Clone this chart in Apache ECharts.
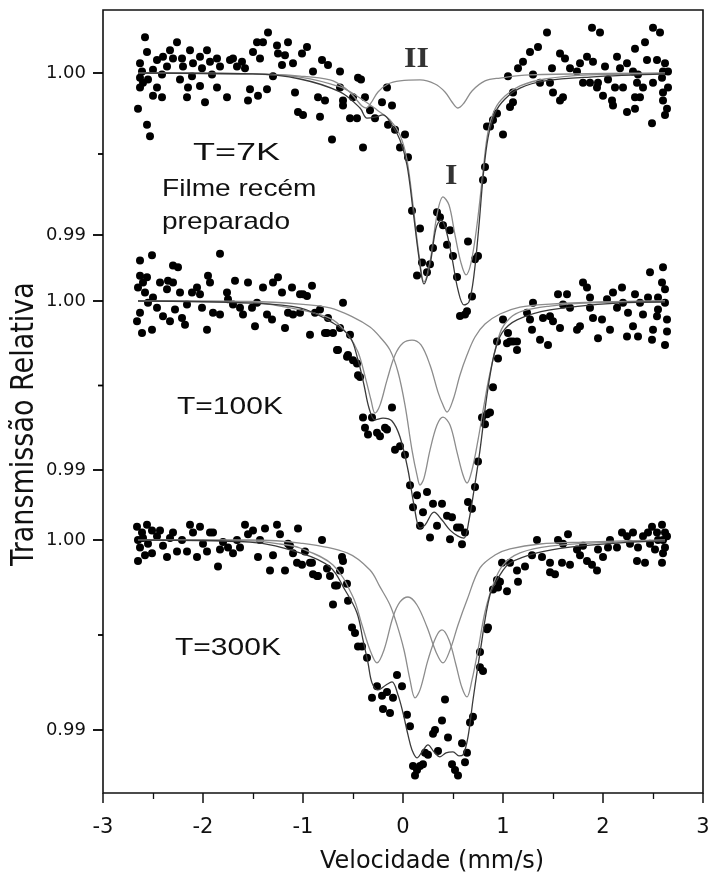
<!DOCTYPE html>
<html>
<head>
<meta charset="utf-8">
<script src="https://cdn.jsdelivr.net/npm/echarts@6/dist/echarts.min.js"></script>
<style>html,body{margin:0;padding:0;background:#fff}#c{width:714px;height:880px}</style>
</head>
<body>
<div id="c"></div>
<script>
// ---------- tick labels ----------
const xTickValues = [-3, -2, -1, 0, 1, 2, 3];
const yTickLabels = [0.99, 1.00];
const yMinorTicks = [0.995];
const panelLabels = ['T=7K', 'T=100K', 'T=300K'];

// ---------- Panel 1 : T = 7 K ----------
const p1Data = [
[-2.58,1.0022],[-2.56,1.0013],[-2.63,1.0006],[-2.61,1.0001],[-2.63,0.9997],[-2.60,0.9994],[-2.63,0.9991],[-2.55,0.9996],
[-2.50,1.0002],[-2.46,1.0008],[-2.40,1.0010],[-2.36,1.0004],[-2.41,0.9999],[-2.46,0.9991],[-2.50,0.9986],[-2.41,0.9985],
[-2.65,0.9978],[-2.56,0.9968],[-2.53,0.9961],[-2.33,1.0014],[-2.26,1.0019],[-2.30,1.0009],[-2.21,1.0009],[-2.20,1.0004],
[-2.23,0.9996],[-2.15,0.9991],[-2.16,0.9985],[-2.11,0.9998],[-2.10,1.0006],[-2.13,1.0014],[-2.03,1.0010],[-1.96,1.0014],
[-2.01,1.0003],[-2.03,0.9992],[-1.98,0.9982],[-1.93,1.0007],[-1.86,1.0009],[-1.83,1.0004],[-1.91,0.9999],[-1.86,0.9991],
[-1.76,0.9985],[-1.73,1.0008],[-1.70,1.0009],[-1.66,1.0004],[-1.61,1.0007],[-1.58,1.0003],[-1.50,1.0013],[-1.46,1.0019],
[-1.40,1.0019],[-1.43,1.0009],[-1.53,0.9990],[-1.55,0.9983],[-1.45,0.9986],[-1.35,1.0025],[-1.26,1.0017],[-1.18,1.0011],
[-1.15,1.0019],[-1.25,1.0012],[-1.21,1.0005],[-1.30,0.9998],[-1.36,0.9990],[-1.08,0.9988],[-1.05,0.9976],[-1.00,0.9974],
[-1.01,1.0012],[-0.96,1.0016],[-1.10,1.0006],[-0.90,1.0001],[-0.81,1.0008],[-0.75,1.0005],[-0.85,0.9985],[-0.78,0.9983],
[-0.83,0.9973],[-0.71,0.9959],[-0.63,1.0001],[-0.63,0.9991],[-0.60,0.9983],[-0.60,0.9980],[-0.53,0.9972],[-0.46,0.9972],
[-0.45,0.9997],[-0.50,0.9985],[-0.42,0.9996],[-0.38,0.9985],[-0.33,0.9977],[-0.28,0.9972],[-0.21,0.9982],[-0.16,0.9991],
[-0.11,0.9980],[-0.15,0.9968],[-0.08,0.9965],[0.02,0.9962],[-0.03,0.9954],[-0.40,0.9954],[0.05,0.9948],[0.09,0.9915],
[0.17,0.9904],[0.19,0.9883],[0.27,0.9882],[0.14,0.9875],[0.24,0.9877],[0.30,0.9892],[0.34,0.9914],[0.37,0.9911],
[0.40,0.9906],[0.47,0.9903],[0.44,0.9894],[0.50,0.9887],[0.54,0.9874],[0.65,0.9896],[0.72,0.9885],[0.75,0.9887],
[0.69,0.9862],[0.57,0.9850],[0.62,0.9851],[0.64,0.9853],[0.80,0.9934],[0.82,0.9942],[0.84,0.9967],[0.90,0.9971],
[0.94,0.9975],[1.00,0.9962],[0.87,0.9967],[1.10,0.9982],[1.07,0.9979],[1.10,0.9988],
[1.44,1.0025],[1.89,1.0028],[1.97,1.0025],[2.50,1.0028],[2.57,1.0025],[2.42,1.0019],[2.32,1.0015],[1.35,1.0016],
[1.27,1.0013],[1.20,1.0007],[1.15,1.0003],[1.05,0.9998],[1.30,0.9999],[1.37,0.9994],[1.47,0.9994],[1.57,1.0012],
[1.62,1.0009],[1.49,1.0003],[1.67,1.0003],[1.74,1.0001],[1.77,1.0006],[1.84,1.0010],[1.90,1.0007],[2.02,1.0004],
[2.14,1.0010],[2.24,1.0006],[2.17,1.0003],[2.30,1.0001],[2.35,0.9999],[2.44,1.0008],[2.54,1.0008],[2.62,1.0006],
[2.60,1.0001],[2.65,1.0001],[2.59,0.9997],[2.50,0.9994],[2.40,0.9991],[2.34,0.9994],[2.20,0.9991],[2.12,0.9991],
[2.05,0.9996],[1.95,0.9994],[1.94,0.9991],[2.00,0.9986],[2.09,0.9983],[2.10,0.9980],[2.24,0.9976],[2.32,0.9978],
[2.32,0.9985],[2.37,0.9985],[1.60,0.9985],[1.57,0.9983],[1.50,0.9988],[1.80,0.9994],[1.87,0.9994],[2.49,0.9969],
[2.60,0.9983],[2.64,0.9978],[2.62,0.9974],[2.60,0.9988],[2.65,0.9991]
];
const p1Total = [
[-2.65,1.0],[-1.5,0.99994],[-1.03,0.99963],[-0.63,0.99883],[-0.43,0.99784],[-0.36,0.99722],[-0.28,0.99728],[-0.20,0.99741],
[-0.11,0.99679],[-0.03,0.99587],[0.04,0.99432],[0.10,0.99154],[0.16,0.98859],[0.21,0.98698],[0.27,0.98816],[0.33,0.99043],
[0.38,0.99093],[0.43,0.99031],[0.49,0.98859],[0.55,0.98661],[0.61,0.98569],[0.66,0.98587],[0.71,0.98754],[0.76,0.99062],
[0.80,0.99352],[0.85,0.99599],[0.92,0.99753],[1.02,0.99840],[1.17,0.99907],[1.42,0.99951],[1.87,0.99975],[2.62,0.99994]
];
const p1CompI = [
[-2.65,1.0],[-1.5,0.99994],[-1.03,0.99975],[-0.63,0.99914],[-0.43,0.99846],[-0.26,0.99772],[-0.13,0.99710],[-0.03,0.99617],
[0.04,0.99463],[0.10,0.99185],[0.16,0.98877],[0.21,0.98711],[0.27,0.98834],[0.34,0.99124],[0.40,0.99235],[0.46,0.99185],
[0.52,0.99000],[0.58,0.98828],[0.63,0.98754],[0.68,0.98828],[0.74,0.99062],[0.80,0.99389],[0.85,0.99636],[0.92,0.99778],
[1.02,0.99858],[1.17,0.99920],[1.42,0.99963],[1.87,0.99988],[2.62,0.99994]
];
const p1CompII = [
[-2.65,1.0],[-1.5,0.99994],[-1.03,0.99981],[-0.73,0.99957],[-0.58,0.99907],[-0.48,0.99846],[-0.41,0.99796],[-0.37,0.99784],
[-0.32,0.99815],[-0.25,0.99883],[-0.15,0.99932],[-0.03,0.99951],[0.17,0.99957],[0.32,0.99932],[0.42,0.99883],[0.49,0.99821],
[0.55,0.99784],[0.61,0.99815],[0.69,0.99889],[0.82,0.99951],[0.97,0.99969],[1.27,0.99988],[2.62,1.0]
];

// ---------- Panel 2 : T = 100 K ----------
const p2Data = [
[-2.63,1.0024],[-2.51,1.0027],[-2.30,1.0021],[-2.25,1.0020],[-1.83,1.0028],[-2.63,1.0015],[-2.60,1.0011],[-2.56,1.0014],
[-2.65,1.0008],[-2.58,1.0005],[-2.55,0.9999],[-2.50,1.0002],[-2.46,0.9996],[-2.63,0.9993],[-2.66,0.9988],[-2.61,0.9981],
[-2.51,0.9983],[-2.43,1.0011],[-2.36,1.0007],[-2.35,1.0012],[-2.30,1.0011],[-2.40,0.9991],[-2.33,0.9988],[-2.28,0.9995],
[-2.21,0.9990],[-2.18,0.9986],[-2.23,1.0005],[-2.16,0.9998],[-2.11,1.0005],[-2.06,1.0008],[-2.03,1.0004],[-2.01,0.9996],
[-1.96,0.9983],[-1.95,1.0015],[-1.93,1.0011],[-1.90,0.9993],[-1.83,0.9992],[-1.76,1.0005],[-1.75,1.0001],[-1.70,0.9998],
[-1.68,1.0012],[-1.63,0.9996],[-1.60,0.9992],[-1.55,1.0011],[-1.51,0.9996],[-1.48,0.9985],[-1.46,0.9999],[-1.40,1.0008],
[-1.36,0.9992],[-1.31,0.9989],[-1.30,1.0011],[-1.25,1.0014],[-1.21,1.0005],[-1.18,0.9984],[-1.11,1.0008],[-1.10,0.9992],
[-1.03,0.9993],[-1.00,1.0004],[-0.91,1.0009],[-0.93,0.9980],[-0.83,0.9995],[-0.75,0.9990],[-0.76,0.9981],[-0.70,0.9981],
[-0.65,0.9971],[-0.63,0.9984],[-0.60,0.9999],[-0.55,0.9968],[-0.50,0.9965],[-0.45,0.9956],[-1.03,1.0004],[-0.96,1.0003],
[-0.88,0.9993],[-1.15,0.9993],[-0.78,0.9981],[-0.53,0.9980],[-0.66,0.9971],[-0.56,0.9967],[-0.46,0.9963],[-0.43,0.9955],
[-0.40,0.9931],[-0.31,0.9931],[-0.38,0.9925],[-0.35,0.9921],[-0.26,0.9922],[-0.23,0.9920],[-0.18,0.9925],[-0.16,0.9924],
[-0.11,0.9937],[-0.08,0.9912],[-0.03,0.9914],[0.02,0.9909],[0.07,0.9891],[0.14,0.9885],[0.24,0.9887],[0.10,0.9878],
[0.20,0.9875],[0.30,0.9880],[0.39,0.9880],[0.17,0.9867],[0.34,0.9867],[0.27,0.9860],[0.44,0.9873],[0.49,0.9872],
[0.54,0.9866],[0.57,0.9866],[0.47,0.9859],[0.59,0.9856],[0.62,0.9863],[0.65,0.9881],[0.69,0.9877],[0.72,0.9890],
[0.75,0.9905],[0.79,0.9931],[0.84,0.9933],[0.82,0.9927],[0.87,0.9934],[0.90,0.9949],[0.95,0.9966],[0.94,0.9976],
[1.00,0.9989],[1.05,0.9981],[1.07,0.9976],[1.14,0.9976],[1.14,0.9971],
[1.24,0.9993],[1.30,0.9999],[1.27,0.9989],[1.29,0.9983],[1.04,0.9975],[1.10,0.9976],[1.37,0.9977],[1.45,0.9974],
[1.40,0.9990],[1.47,0.9991],[1.50,0.9988],[1.57,0.9984],[1.55,1.0004],[1.64,1.0004],[1.60,0.9998],[1.67,0.9996],
[1.74,0.9983],[1.77,0.9985],[1.80,1.0011],[1.84,1.0008],[1.87,1.0002],[1.87,0.9996],[1.90,0.9990],[1.95,0.9978],
[1.99,0.9989],[2.04,1.0001],[2.07,0.9983],[2.10,1.0005],[2.14,0.9996],[2.19,1.0008],[2.20,0.9999],[2.24,0.9979],
[2.25,0.9993],[2.30,0.9985],[2.32,1.0004],[2.35,0.9979],[2.37,0.9999],[2.40,0.9992],[2.45,1.0002],[2.47,1.0017],
[2.50,0.9983],[2.49,0.9977],[2.55,1.0002],[2.55,0.9995],[2.59,1.0011],[2.60,1.0020],[2.62,1.0007],[2.62,0.9999],
[2.64,0.9989],[2.64,0.9982],[2.62,0.9974],[2.54,0.9991]
];
const p2Total = [
[-2.65,1.0],[-1.53,0.99988],[-1.03,0.99959],[-0.70,0.99870],[-0.53,0.99787],[-0.45,0.99651],[-0.39,0.99503],[-0.34,0.99367],
[-0.28,0.99296],[-0.20,0.99307],[-0.11,0.99290],[-0.03,0.99195],[0.05,0.99000],[0.11,0.98792],[0.17,0.98656],[0.22,0.98674],
[0.31,0.98751],[0.39,0.98704],[0.47,0.98644],[0.55,0.98609],[0.61,0.98597],[0.66,0.98704],[0.71,0.98881],[0.77,0.99118],
[0.84,0.99444],[0.91,0.99680],[0.99,0.99811],[1.14,0.99888],[1.47,0.99947],[2.14,0.99988],[2.62,0.99994]
];
const p2CompA = [
[-2.65,1.0],[-1.53,0.99994],[-1.23,0.99970],[-0.93,0.99935],[-0.70,0.99888],[-0.55,0.99799],[-0.45,0.99698],[-0.37,0.99532],
[-0.32,0.99414],[-0.28,0.99337],[-0.23,0.99384],[-0.16,0.99532],[-0.08,0.99680],[0.00,0.99751],[0.09,0.99769],[0.18,0.99740],
[0.27,0.99621],[0.35,0.99461],[0.40,0.99384],[0.44,0.99343],[0.50,0.99414],[0.57,0.99562],[0.64,0.99680],[0.72,0.99787],
[0.82,0.99864],[0.97,0.99923],[1.17,0.99964],[1.47,0.99982],[1.97,0.99994],[2.62,1.0]
];
const p2CompB = [
[-2.65,1.0],[-1.53,0.99997],[-1.03,0.99982],[-0.73,0.99959],[-0.50,0.99905],[-0.33,0.99846],[-0.23,0.99787],[-0.13,0.99710],
[-0.05,0.99580],[0.02,0.99384],[0.09,0.99118],[0.14,0.98970],[0.17,0.98911],[0.21,0.98952],[0.27,0.99118],[0.34,0.99266],
[0.40,0.99313],[0.47,0.99266],[0.54,0.99106],[0.60,0.98970],[0.64,0.98923],[0.69,0.99000],[0.75,0.99177],[0.81,0.99384],
[0.87,0.99574],[0.97,0.99811],[1.07,0.99899],[1.20,0.99941],[1.47,0.99970],[1.80,0.99988],[2.62,1.0]
];

// ---------- Panel 3 : T = 300 K ----------
const p3Data = [
[-2.66,1.0007],[-2.61,1.0004],[-2.56,1.0008],[-2.51,1.0005],[-2.65,1.0000],[-2.60,1.0001],[-2.55,0.9998],[-2.63,0.9996],
[-2.58,0.9992],[-2.65,0.9989],[-2.51,0.9993],[-2.46,1.0002],[-2.43,1.0005],[-2.40,0.9997],[-2.36,0.9991],[-2.33,1.0001],
[-2.30,1.0004],[-2.26,0.9994],[-2.21,1.0000],[-2.16,0.9994],[-2.13,1.0008],[-2.10,1.0004],[-2.06,0.9991],[-2.03,1.0007],
[-2.00,0.9998],[-1.96,0.9994],[-1.93,1.0004],[-1.90,1.0004],[-1.85,0.9986],[-1.83,0.9995],[-1.80,0.9999],[-1.75,0.9996],
[-1.70,0.9993],[-1.66,1.0000],[-1.63,0.9996],[-1.58,1.0008],[-1.55,1.0003],[-1.50,1.0005],[-1.45,0.9991],[-1.43,1.0000],
[-1.38,1.0006],[-1.33,0.9984],[-1.30,0.9992],[-1.26,1.0008],[-1.23,1.0003],[-1.18,0.9984],[-1.13,0.9997],[-1.10,0.9993],
[-1.05,1.0006],[-1.01,0.9987],[-0.98,0.9994],[-0.93,0.9988],[-0.90,0.9982],[-0.85,0.9981],[-0.81,1.0000],[-0.76,0.9985],
[-0.73,0.9981],[-0.70,0.9966],[-0.66,0.9976],[-0.63,0.9984],[-0.60,0.9989],[-0.55,0.9968],[-0.56,0.9977],[-0.51,0.9954],
[-0.48,0.9951],[-0.45,0.9944],[-1.15,0.9998],[-1.06,0.9988],[-0.91,0.9988],[-0.86,0.9981],[-0.61,0.9991],[-0.68,0.9976],
[-0.41,0.9944],[-0.36,0.9938],[-0.26,0.9923],[-0.31,0.9917],[-0.21,0.9918],[-0.16,0.9920],[-0.10,0.9917],[-0.06,0.9929],
[-0.01,0.9923],[-0.20,0.9911],[-0.13,0.9909],[0.04,0.9908],[0.07,0.9902],[0.10,0.9881],[0.14,0.9879],[0.12,0.9876],
[0.17,0.9881],[0.20,0.9882],[0.22,0.9888],[0.25,0.9887],[0.30,0.9898],[0.32,0.9900],[0.39,0.9905],[0.42,0.9916],
[0.45,0.9896],[0.35,0.9889],[0.49,0.9882],[0.52,0.9879],[0.55,0.9876],[0.59,0.9893],[0.62,0.9883],[0.64,0.9888],
[0.67,0.9904],[0.70,0.9907],[0.77,0.9933],[0.80,0.9931],[0.77,0.9941],[0.84,0.9953],[0.85,0.9954],[0.90,0.9974],
[0.95,0.9975],[1.04,0.9973],[0.94,0.9979],[0.97,0.9978],[0.99,0.9988],[1.07,0.9988],[1.14,0.9984],[1.15,0.9978],
[1.22,0.9986],[1.29,0.9992],[1.34,1.0000],[1.39,0.9991],[1.47,0.9988],[1.47,0.9983],[1.52,0.9982],[1.55,1.0000],
[1.60,0.9998],[1.59,0.9988],[1.65,1.0003],[1.67,0.9987],[1.74,0.9995],[1.77,0.9992],[1.80,0.9997],[1.84,0.9989],
[1.89,0.9987],[1.94,0.9984],[1.95,0.9995],[2.00,0.9991],[2.05,0.9996],[2.07,1.0000],[2.14,0.9996],[2.19,1.0004],
[2.24,1.0002],[2.27,0.9998],[2.30,1.0004],[2.34,0.9989],[2.35,0.9996],[2.40,1.0002],[2.42,0.9988],[2.45,1.0004],
[2.47,0.9998],[2.49,1.0007],[2.52,0.9995],[2.54,1.0004],[2.55,1.0000],[2.59,1.0008],[2.59,0.9988],[2.60,0.9993],
[2.62,0.9996],[2.62,1.0004],[2.64,1.0002],[2.60,1.0000]
];
const p3Total = [
[-2.65,1.0],[-1.53,0.99989],[-1.03,0.99932],[-0.73,0.99858],[-0.58,0.99737],[-0.46,0.99616],[-0.40,0.99474],[-0.35,0.99353],
[-0.31,0.99248],[-0.25,0.99211],[-0.17,0.99237],[-0.11,0.99253],[-0.05,0.99185],[0.00,0.99090],[0.05,0.98974],[0.09,0.98895],
[0.14,0.98853],[0.19,0.98885],[0.25,0.98922],[0.31,0.98885],[0.37,0.98859],[0.43,0.98880],[0.50,0.98885],[0.56,0.98864],
[0.60,0.98869],[0.65,0.98964],[0.70,0.99158],[0.77,0.99406],[0.87,0.99711],[0.97,0.99816],[1.07,0.99879],[1.34,0.99932],
[1.67,0.99963],[2.14,0.99984],[2.62,0.99995]
];
const p3CompA = [
[-2.65,1.0],[-1.53,0.99995],[-1.23,0.99979],[-1.03,0.99958],[-0.70,0.99868],[-0.50,0.99700],[-0.41,0.99553],[-0.33,0.99421],
[-0.26,0.99353],[-0.19,0.99421],[-0.10,0.99595],[-0.03,0.99674],[0.05,0.99700],[0.14,0.99658],[0.24,0.99542],[0.33,0.99411],
[0.40,0.99353],[0.47,0.99421],[0.55,0.99553],[0.64,0.99684],[0.77,0.99853],[0.92,0.99921],[1.07,0.99953],[1.37,0.99979],
[1.80,0.99989],[2.62,1.0]
];
const p3CompB = [
[-2.65,1.0],[-1.53,1.0],[-1.03,0.99984],[-0.56,0.99932],[-0.33,0.99842],[-0.23,0.99753],[-0.13,0.99658],[-0.06,0.99553],
[0.01,0.99421],[0.07,0.99264],[0.12,0.99169],[0.17,0.99211],[0.25,0.99369],[0.33,0.99490],[0.39,0.99527],[0.46,0.99474],
[0.53,0.99342],[0.59,0.99222],[0.64,0.99174],[0.69,0.99264],[0.75,0.99421],[0.82,0.99621],[0.90,0.99763],[1.00,0.99868],
[1.17,0.99932],[1.47,0.99968],[2.14,0.99989],[2.62,0.99995]
];

// ---------- layout ----------
const L = 103, R = 11;
const X_MIN = -3, X_MAX = 3;
const panels = [
  {top: 8.2,  height: 324, min: 0.984, max: 1.004, data: p1Data, total: p1Total, comps: [p1CompI, p1CompII]},
  {top: 250.3, height: 338, min: 0.983, max: 1.003, data: p2Data, total: p2Total, comps: [p2CompA, p2CompB]},
  {top: 502,  height: 285, min: 0.987, max: 1.002, data: p3Data, total: p3Total, comps: [p3CompA, p3CompB]}
];

const grid = [{left: L, right: R, top: 10, bottom: 87, show: true, borderColor: '#111', borderWidth: 1.6, backgroundColor: 'transparent'}];
const xAxis = [{
  gridIndex: 0, type: 'value', min: X_MIN, max: X_MAX, interval: 1,
  axisLine: {show: false, onZero: false},
  axisTick: {show: true, inside: false, length: 10, lineStyle: {color: '#111', width: 1.5}},
  minorTick: {show: true, splitNumber: 2, length: 6, lineStyle: {color: '#111', width: 1.3}},
  axisLabel: {show: true, margin: 24, color: '#111', fontSize: 21, fontFamily: 'DejaVu Sans',
    customValues: xTickValues, formatter: v => String(v)},
  splitLine: {show: false}
}];
const yAxis = [{gridIndex: 0, type: 'value', min: 0, max: 1, show: false}];
const series = [];

panels.forEach((p, i) => {
  const gi = i + 1;
  grid.push({left: L, right: R, top: p.top, height: p.height, show: false});
  xAxis.push({gridIndex: gi, type: 'value', min: X_MIN, max: X_MAX, show: false, axisLine: {onZero: false}});
  yAxis.push({
    gridIndex: gi, type: 'value', min: p.min, max: p.max, position: 'left', offset: 0,
    axisLine: {show: false, onZero: false}, splitLine: {show: false}, axisTick: {show: false},
    axisLabel: {show: true, margin: 17, color: '#111', fontSize: 18, fontFamily: 'DejaVu Sans',
      customValues: yTickLabels, formatter: v => v.toFixed(2)}
  });
});

panels.forEach((p, i) => {
  const gi = i + 1;
  series.push({
    type: 'scatter', xAxisIndex: gi, yAxisIndex: gi, data: p.data,
    symbol: 'circle', symbolSize: 8, itemStyle: {color: '#000', opacity: 1}, z: 3, silent: true
  });
  p.comps.forEach(c => series.push({
    type: 'line', xAxisIndex: gi, yAxisIndex: gi, data: c, showSymbol: false, smooth: 0.35,
    lineStyle: {color: '#8c8c8c', width: 1.3}, z: 4, silent: true
  }));
  series.push({
    type: 'line', xAxisIndex: gi, yAxisIndex: gi, data: p.total, showSymbol: false, smooth: 0.35,
    lineStyle: {color: '#3a3a3a', width: 1.3}, z: 5, silent: true
  });
});

const sansFont = '24px "Liberation Sans", Arial, sans-serif';
const serifFont = 'bold 29px "Liberation Serif", "Times New Roman", serif';
const mid = {verticalAlign: 'middle', textVerticalAlign: 'middle', fill: '#111'};
const graphic = [
  {type: 'text', x: 193, y: 153, scaleX: 1.5, style: Object.assign({text: panelLabels[0], font: sansFont}, mid)},
  {type: 'text', x: 162, y: 189, scaleX: 1.17, style: Object.assign({text: 'Filme recém', font: sansFont}, mid)},
  {type: 'text', x: 162, y: 222, scaleX: 1.17, style: Object.assign({text: 'preparado', font: sansFont}, mid)},
  {type: 'text', x: 177, y: 407, scaleX: 1.25, style: Object.assign({text: panelLabels[1], font: sansFont}, mid)},
  {type: 'text', x: 175, y: 648, scaleX: 1.25, style: Object.assign({text: panelLabels[2], font: sansFont}, mid)},
  {type: 'text', x: 404, y: 60, scaleX: 1.1, style: {text: 'II', font: serifFont, fill: '#333', verticalAlign: 'middle', textVerticalAlign: 'middle'}},
  {type: 'text', x: 445, y: 177, scaleX: 1.1, style: {text: 'I', font: serifFont, fill: '#333', verticalAlign: 'middle', textVerticalAlign: 'middle'}},
  {type: 'text', x: 432, y: 862, style: {text: 'Velocidade (mm/s)', font: '24px "DejaVu Sans", sans-serif', fill: '#111', align: 'center', textAlign: 'center', verticalAlign: 'middle', textVerticalAlign: 'middle'}},
  {type: 'text', x: 25, y: 424, rotation: Math.PI / 2, scaleY: 1.15, style: {text: 'Transmissão Relativa', font: '27px "DejaVu Sans", sans-serif', fill: '#111', align: 'center', textAlign: 'center', verticalAlign: 'middle', textVerticalAlign: 'middle'}}
];

const chart = echarts.init(document.getElementById('c'), null, {renderer: 'canvas'});
chart.setOption({animation: false, backgroundColor: '#fff', grid, xAxis, yAxis, series, graphic});

// y-axis tick marks: positions obtained from each panel's own scale via convertToPixel
const tickGraphics = [];
panels.forEach((p, i) => {
  const gi = i + 1;
  const add = (v, len) => {
    const pt = chart.convertToPixel({xAxisIndex: gi, yAxisIndex: gi}, [X_MIN, v]);
    tickGraphics.push({type: 'line', z: 200, silent: true,
      shape: {x1: pt[0] - len, y1: pt[1], x2: pt[0], y2: pt[1]},
      style: {stroke: '#000', lineWidth: 1.8}});
  };
  yTickLabels.forEach(v => add(v, 10));
  yMinorTicks.forEach(v => add(v, 5));
});
chart.setOption({graphic: graphic.concat(tickGraphics)});
</script>
</body>
</html>
